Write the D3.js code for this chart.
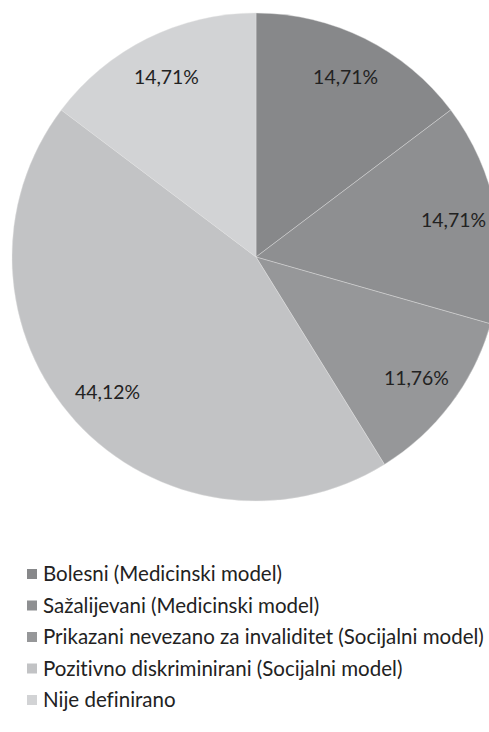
<!DOCTYPE html>
<html><head><meta charset="utf-8">
<script src="https://cdn.jsdelivr.net/npm/d3@7/dist/d3.min.js"></script>
<style>html,body{margin:0;padding:0;background:#fff;overflow:hidden} text{font-variant-ligatures:none;font-feature-settings:"liga" 0}</style>
</head><body>
<script>
const categories = [
  "Bolesni (Medicinski model)",
  "Sažalijevani (Medicinski model)",
  "Prikazani nevezano za invaliditet (Socijalni model)",
  "Pozitivno diskriminirani (Socijalni model)",
  "Nije definirano"
];
const values = [14.71, 14.71, 11.76, 44.12, 14.71];
const labels = ["14,71%", "14,71%", "11,76%", "44,12%", "14,71%"];
const colors = ["#87888a", "#8e8f91", "#969799", "#c2c3c5", "#d2d3d5"];

const W = 489, H = 732;
const svg = d3.select("body").append("svg").attr("width", W).attr("height", H);
const font = "Lato, 'Open Sans', sans-serif";

const cx = 256, cy = 257, R = 244, labelR = 201;
const pie = d3.pie().sort(null).value(d => d)(values);
const arc = d3.arc().innerRadius(0).outerRadius(R);
const labelArc = d3.arc().innerRadius(labelR).outerRadius(labelR);

const g = svg.append("g").attr("transform", `translate(${cx},${cy})`);
g.selectAll("path").data(pie).join("path")
  .attr("d", arc)
  .attr("fill", (d, i) => colors[i])
  .attr("stroke", "#e4e4e4").attr("stroke-width", 0.4);

const lbl = g.selectAll("text").data(pie).join("text")
  .attr("transform", d => `translate(${labelArc.centroid(d)})`)
  .attr("text-anchor", "middle").attr("dy", "0.35em")
  .attr("font-family", font).attr("font-size", 16).attr("fill", "#222")
  .text((d, i) => labels[i]);
const lw = lbl.node().getComputedTextLength();
lbl.attr("font-size", 16 * 65 / lw);

const legY0 = 574, legStep = 31.5;
const leg = svg.append("g");
const rows = leg.selectAll("g").data(categories).join("g")
  .attr("transform", (d, i) => `translate(0,${legY0 + i * legStep})`);
rows.append("rect").attr("x", 27).attr("y", -5).attr("width", 10).attr("height", 10)
  .attr("fill", (d, i) => colors[i]);
const texts = rows.append("text").attr("x", 43).attr("dy", "0.35em")
  .attr("font-family", font).attr("font-size", 18).attr("fill", "#222")
  .text(d => d);
// fit the longest legend entry width to the reference (~441px)
const longest = texts.filter((d, i) => i === 2).node().getComputedTextLength();
texts.attr("font-size", 18 * 441 / longest);
</script>
</body></html>
